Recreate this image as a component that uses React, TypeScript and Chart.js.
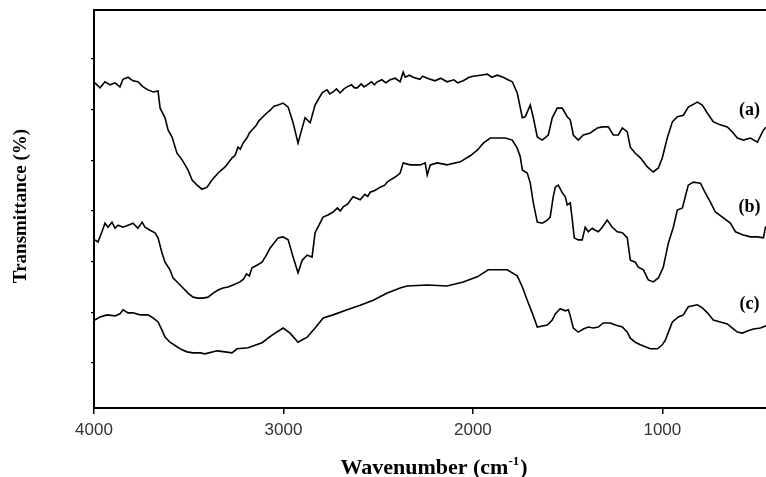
import React, { useEffect, useRef } from "react";
import { Chart, registerables } from "chart.js";

Chart.register(...registerables);

// Spectrum (a)
const waveA = [3995,3968,3942,3915,3889,3863,3847,3820,3794,3768,3741,3715,3688,3662,3651,3625,3609,3588,3562,3535,3504,3482,3456,3430,3403,3377,3345,3308,3271,3255,3240,3228,3213,3190,3180,3166,3145,3130,3113,3095,3070,3050,3028,3002,2975,2949,2923,2901,2886,2859,2833,2796,2770,2755,2738,2720,2701,2680,2664,2640,2625,2611,2590,2575,2558,2535,2520,2505,2480,2460,2437,2410,2384,2368,2357,2335,2315,2280,2265,2241,2200,2170,2136,2100,2080,2051,2020,1998,1960,1924,1900,1871,1840,1820,1792,1766,1739,1724,1697,1681,1660,1634,1602,1581,1555,1528,1502,1486,1470,1444,1417,1380,1343,1317,1285,1259,1232,1211,1185,1169,1143,1116,1079,1048,1021,1000,974,947,921,889,863,815,789,762,731,694,657,630,604,572,535,498,466,456,430];
const transA = [65.3,64.3,65.5,64.9,65.3,64.5,66.0,66.4,65.7,65.5,64.5,63.9,63.5,63.7,60.3,58.4,56.0,54.6,51.4,50.1,48.1,46.1,45.1,44.3,44.7,46.1,47.5,48.7,50.5,51.0,52.6,52.2,53.4,54.6,55.4,56.0,56.8,57.8,58.4,59.1,59.9,60.7,60.9,61.3,60.5,57.4,53.4,56.4,58.4,57.4,60.9,63.3,63.9,63.1,63.5,64.1,63.3,64.1,64.5,64.9,64.3,64.3,65.1,64.5,64.9,65.5,64.9,65.5,65.9,65.3,65.9,66.2,65.5,67.4,66.4,66.8,66.4,66.0,66.6,66.2,65.7,66.2,65.5,65.9,65.3,65.7,66.4,66.6,66.8,67.0,66.4,66.8,66.4,66.0,65.5,63.3,58.4,58.6,60.9,58.4,54.6,54.0,55.0,58.4,60.3,60.3,58.6,58.0,55.0,54.0,55.0,55.4,56.4,56.6,56.6,55.0,55.0,56.4,55.6,52.6,51.4,50.5,48.7,47.7,48.5,50.5,54.4,57.6,58.6,58.9,60.5,61.5,60.9,59.3,57.6,57.0,56.6,55.6,54.4,54.0,54.4,53.6,56.0,56.4,57.0];

// Spectrum (b)
const waveB = [3995,3979,3958,3942,3926,3905,3889,3873,3847,3820,3794,3768,3746,3731,3704,3678,3662,3641,3625,3599,3583,3556,3530,3504,3477,3451,3424,3398,3371,3345,3319,3292,3266,3229,3210,3195,3180,3166,3140,3113,3090,3070,3028,3002,2975,2949,2923,2901,2875,2849,2833,2791,2765,2738,2715,2700,2685,2660,2645,2632,2595,2570,2555,2542,2515,2489,2465,2450,2437,2410,2384,2368,2331,2278,2252,2241,2225,2188,2136,2067,2014,1977,1945,1908,1871,1829,1792,1766,1750,1739,1713,1697,1681,1660,1634,1607,1592,1576,1565,1549,1528,1512,1502,1486,1475,1465,1444,1423,1407,1391,1370,1354,1338,1317,1291,1264,1238,1211,1185,1169,1143,1127,1100,1074,1048,1021,995,968,942,921,894,879,863,836,799,773,747,720,683,641,614,577,535,498,466,456,430];
const transB = [34.3,33.9,35.9,37.6,36.8,37.8,36.6,37.2,36.8,37.2,37.6,36.6,37.8,36.8,36.2,35.7,34.7,31.7,29.9,28.4,26.8,25.8,24.8,23.8,23.0,22.8,22.8,23.0,23.8,24.4,24.8,25.0,25.4,26.0,26.6,27.6,27.2,28.8,29.3,29.9,31.3,32.7,34.7,34.9,34.3,30.9,27.8,30.3,31.3,30.9,35.7,38.8,39.2,39.8,40.6,40.0,40.8,41.4,42.2,42.8,42.2,43.3,42.9,43.7,44.1,44.7,45.1,45.8,46.1,46.7,47.5,49.5,49.1,49.1,49.5,47.1,49.1,49.5,49.1,49.7,50.9,52.0,53.4,54.4,54.4,54.4,54.0,52.4,50.7,48.1,47.5,45.5,41.6,37.8,37.6,38.2,38.8,42.8,44.7,45.1,43.6,42.8,41.2,41.6,38.2,34.7,34.3,34.3,36.8,35.9,36.6,36.2,35.9,36.8,38.2,36.8,35.9,35.7,34.7,30.3,29.9,28.9,28.4,26.4,26.0,26.8,28.9,33.7,36.8,40.2,40.6,42.8,45.1,45.7,45.5,43.6,41.8,39.8,38.8,37.6,35.9,35.3,34.9,34.9,34.7,36.8,37.2];

// Spectrum (c)
const waveC = [3995,3968,3931,3889,3863,3847,3820,3794,3757,3715,3688,3662,3641,3625,3599,3562,3535,3509,3477,3440,3414,3350,3308,3271,3245,3187,3113,3060,3002,2965,2923,2875,2833,2790,2738,2664,2595,2526,2452,2384,2347,2241,2136,2051,1977,1919,1819,1766,1739,1713,1687,1660,1607,1581,1565,1539,1512,1496,1486,1470,1444,1417,1391,1364,1338,1312,1275,1248,1211,1185,1169,1143,1116,1090,1063,1026,1000,984,968,947,915,889,863,815,789,762,731,694,657,630,604,577,551,519,482,456,430];
const transC = [18.5,19.1,19.5,19.3,19.7,20.5,19.9,19.9,19.5,19.5,18.9,18.1,16.5,15.1,14.1,13.2,12.6,12.2,12.0,12.0,11.8,12.4,12.2,12.0,12.8,13.0,14.0,15.5,16.9,15.9,14.1,15.1,16.9,18.9,19.5,20.5,21.4,22.4,23.8,24.8,25.2,25.4,25.2,26.0,27.0,28.4,28.4,27.2,25.0,22.4,19.9,17.1,17.5,18.5,19.7,20.7,20.3,20.5,19.3,16.9,16.1,16.7,17.1,16.9,17.1,17.9,17.9,17.5,17.1,16.1,14.9,14.1,13.6,13.2,12.8,12.8,13.6,14.5,16.1,18.1,19.1,19.5,21.1,21.5,20.9,19.9,18.5,18.1,17.7,16.9,16.1,15.9,16.3,16.7,16.9,17.3,17.5];

const xTicks = [4000, 3000, 2000, 1000];
const yTicks = [10, 20, 30, 40, 50, 60, 70];
const seriesNames = ["(a)", "(b)", "(c)"];
const nameWave = [540, 540, 540];
const nameLevel = [59.8, 40.8, 21.5];
const xTitleMain = "Wavenumber (cm";
const xTitleSup = "-1";
const xTitleEnd = ")";
const yTitle = "Transmittance (%)";

const toPoints = (xs: number[], ys: number[]) => xs.map((x, i) => ({ x, y: ys[i] }));

const decorPlugin = {
  id: "decor",
  afterDraw(chart: any) {
    const { ctx, chartArea, scales } = chart;
    ctx.save();
    // top frame line
    ctx.strokeStyle = "#000";
    ctx.lineWidth = 2;
    ctx.beginPath();
    ctx.moveTo(chartArea.left - 1, chartArea.top);
    ctx.lineTo(chartArea.right, chartArea.top);
    ctx.stroke();

    // series labels
    ctx.fillStyle = "#000";
    ctx.font = "bold 18px 'Liberation Serif', 'Times New Roman', serif";
    ctx.textAlign = "center";
    ctx.textBaseline = "middle";
    seriesNames.forEach((n, i) => {
      const px = scales.x.getPixelForValue(nameWave[i]);
      const py = scales.y.getPixelForValue(nameLevel[i]);
      ctx.fillText(n, px, py);
    });

    // y title
    ctx.save();
    ctx.translate(21, (chartArea.top + chartArea.bottom) / 2 - 3);
    ctx.rotate(-Math.PI / 2);
    ctx.font = "bold 19px 'Liberation Serif', 'Times New Roman', serif";
    ctx.textAlign = "center";
    ctx.textBaseline = "middle";
    ctx.fillText(yTitle, 0, 0);
    ctx.restore();

    // x title with superscript
    const mainFont = "bold 22px 'Liberation Serif', 'Times New Roman', serif";
    const supFont = "bold 13px 'Liberation Serif', 'Times New Roman', serif";
    ctx.font = mainFont;
    const w1 = ctx.measureText(xTitleMain).width;
    const w3 = ctx.measureText(xTitleEnd).width;
    ctx.font = supFont;
    const w2 = ctx.measureText(xTitleSup).width;
    const total = w1 + w2 + w3 + 1;
    const cx = 434;
    const base = 474;
    let sx = cx - total / 2;
    ctx.textAlign = "left";
    ctx.textBaseline = "alphabetic";
    ctx.font = mainFont;
    ctx.fillText(xTitleMain, sx, base);
    sx += w1;
    ctx.font = supFont;
    ctx.fillText(xTitleSup, sx, base - 9);
    sx += w2 + 1;
    ctx.font = mainFont;
    ctx.fillText(xTitleEnd, sx, base);
    ctx.restore();
  },
};

export default function App() {
  const ref = useRef<HTMLCanvasElement | null>(null);

  useEffect(() => {
    if (!ref.current) return;
    const mk = (xs: number[], ys: number[]) => ({
      data: toPoints(xs, ys),
      borderColor: "#000",
      backgroundColor: "#000",
      borderWidth: 1.6,
      pointRadius: 0,
      tension: 0,
      fill: false,
    });
    const chart = new Chart(ref.current, {
      type: "line",
      data: {
        datasets: [mk(waveA, transA), mk(waveB, transB), mk(waveC, transC)],
      },
      options: {
        animation: false,
        responsive: false,
        devicePixelRatio: 1,
        layout: { padding: { left: 0, right: 0, top: 10, bottom: 0 } },
        plugins: { legend: { display: false }, tooltip: { enabled: false } },
        scales: {
          x: {
            type: "linear",
            reverse: true,
            min: 400,
            max: 4000,
            afterBuildTicks: (s: any) => {
              s.ticks = xTicks.map((v) => ({ value: v }));
            },
            afterFit: (s: any) => {
              s.height = 69;
            },
            border: { display: true, color: "#000", width: 2 },
            grid: { drawOnChartArea: false, drawTicks: true, tickLength: 6, color: "#000", lineWidth: 1.5 },
            ticks: {
              color: "#333",
              padding: 6,
              maxRotation: 0,
              font: { family: "'Liberation Sans', Arial, sans-serif", size: 17 },
              callback: (v: any) => String(v),
            },
          },
          y: {
            type: "linear",
            min: 1.12,
            max: 79.67,
            afterBuildTicks: (s: any) => {
              s.ticks = yTicks.map((v) => ({ value: v }));
            },
            afterFit: (s: any) => {
              s.width = 94;
            },
            border: { display: true, color: "#000", width: 2 },
            grid: { drawOnChartArea: false, drawTicks: true, tickLength: 3, color: "#000", lineWidth: 1.2 },
            ticks: { display: false },
          },
        },
      },
      plugins: [decorPlugin],
    });
    return () => chart.destroy();
  }, []);

  return (
    <div
      style={{
        position: "fixed",
        left: 0,
        top: 0,
        width: 766,
        height: 477,
        overflow: "hidden",
        background: "#fff",
      }}
    >
      <canvas ref={ref} width={776} height={477} style={{ display: "block" }} />
    </div>
  );
}
